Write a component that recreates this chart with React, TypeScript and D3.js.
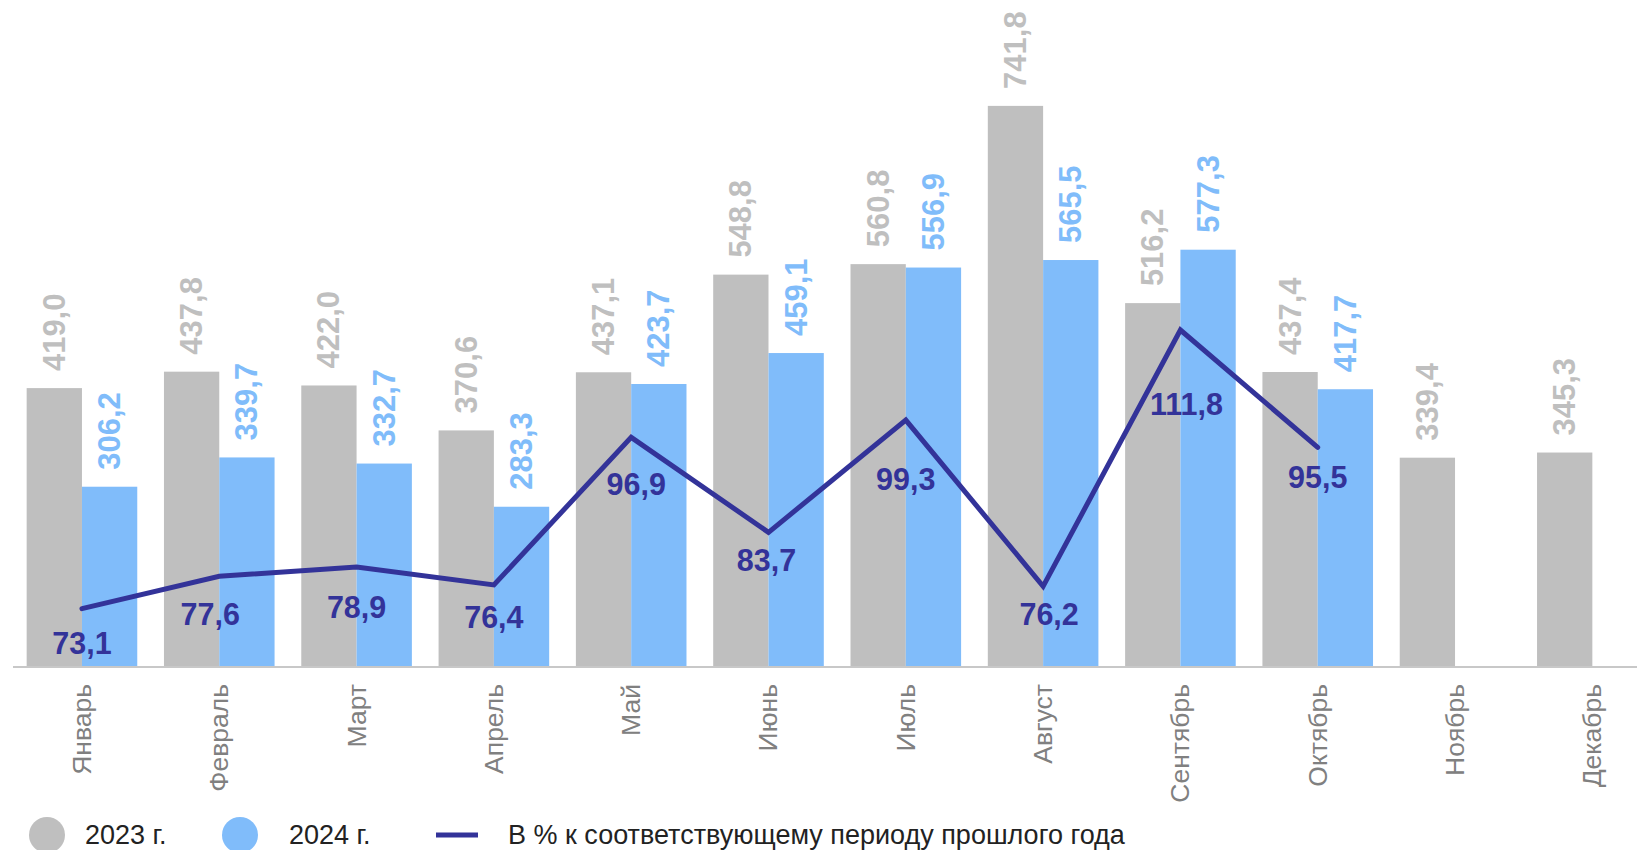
import React from "react";
import * as d3 from "d3";

const months = ["Январь","Февраль","Март","Апрель","Май","Июнь","Июль","Август","Сентябрь","Октябрь","Ноябрь","Декабрь"];
const values2023 = [419.0, 437.8, 422.0, 370.6, 437.1, 548.8, 560.8, 741.8, 516.2, 437.4, 339.4, 345.3];
const values2024 = [306.2, 339.7, 332.7, 283.3, 423.7, 459.1, 556.9, 565.5, 577.3, 417.7];
const percentPrev = [73.1, 77.6, 78.9, 76.4, 96.9, 83.7, 99.3, 76.2, 111.8, 95.5];
const seriesNames = ["2023 г.", "2024 г.", "В % к соответствующему периоду прошлого года"];

// label layout nudges (manual placement as in the source)
const lineLabelDx = [0, -9, 0, 0, 5, -2, 0, 6, 6, 0];
const lineLabelDy = [45, 49, 51, 43.5, 58, 38.5, 70, 39, 85, 41];

const W = 1637, H = 850;
const BASE = 667, TOP = 55;
const GRAY = "#BFBFBF", BLUE = "#80BCFA", LINE = "#333399";
const FONT = "'Liberation Sans', Arial, sans-serif";

const fmt = (v: number) => v.toFixed(1).replace(".", ",");

export default function App() {
  const x = d3.scaleBand<string>().domain(months).range([13.3, 1661]).paddingInner(0.1945).paddingOuter(0.0973);
  const x1 = d3.scaleBand<string>().domain(["2023", "2024"]).range([0, x.bandwidth()]);
  const y = d3.scaleLinear().domain([100, 800]).range([BASE, TOP]);
  const y2 = d3.scaleLinear().domain([65, 150]).range([BASE, TOP]);
  const cx = (m: string) => (x(m) as number) + x.bandwidth() / 2;

  const linePts: [number, number][] = percentPrev.map((v, i) => [cx(months[i]), y2(v)]);
  const lineGen = d3.line();

  return (
    <svg width={W} height={H} style={{ position: "absolute", left: 0, top: 0, background: "#fff" }} fontFamily={FONT}>
      {months.map((m, i) => {
        const gx = (x(m) as number) + (x1("2023") as number);
        const bx = (x(m) as number) + (x1("2024") as number);
        const bw = x1.bandwidth();
        const v1 = values2023[i];
        const v2 = values2024[i];
        return (
          <g key={m}>
            <rect x={gx} y={y(v1)} width={bw} height={BASE - y(v1)} fill={GRAY} />
            <text transform={`translate(${gx + bw / 2},${y(v1) - 17}) rotate(-90)`} fontSize={31} fontWeight="bold" fill={GRAY} dominantBaseline="central" textAnchor="start">{fmt(v1)}</text>
            {v2 !== undefined && (
              <>
                <rect x={bx} y={y(v2)} width={bw} height={BASE - y(v2)} fill={BLUE} />
                <text transform={`translate(${bx + bw / 2},${y(v2) - 17}) rotate(-90)`} fontSize={31} fontWeight="bold" fill={BLUE} dominantBaseline="central" textAnchor="start">{fmt(v2)}</text>
              </>
            )}
            <text transform={`translate(${cx(m)},684) rotate(-90)`} fontSize={26.5} fill="#808080" dominantBaseline="central" textAnchor="end">{m}</text>
          </g>
        );
      })}
      <line x1={13} x2={W} y1={BASE} y2={BASE} stroke="#C8C8C8" strokeWidth={2} />
      <path d={lineGen(linePts) || ""} fill="none" stroke={LINE} strokeWidth={5} strokeLinecap="round" strokeLinejoin="miter" />
      {percentPrev.map((v, i) => (
        <text key={i} x={linePts[i][0] + lineLabelDx[i]} y={linePts[i][1] + lineLabelDy[i]} fontSize={30.5} fontWeight="bold" fill={LINE} textAnchor="middle">{fmt(v)}</text>
      ))}
      <g>
        <circle cx={47} cy={835} r={18} fill={GRAY} />
        <text x={85} y={835} fontSize={27} fill="#222" dominantBaseline="central">{seriesNames[0]}</text>
        <circle cx={240} cy={835} r={18} fill={BLUE} />
        <text x={289} y={835} fontSize={27} fill="#222" dominantBaseline="central">{seriesNames[1]}</text>
        <line x1={436} x2={478} y1={835} y2={835} stroke={LINE} strokeWidth={5} />
        <text x={508} y={835} fontSize={27} fill="#222" dominantBaseline="central">{seriesNames[2]}</text>
      </g>
    </svg>
  );
}
